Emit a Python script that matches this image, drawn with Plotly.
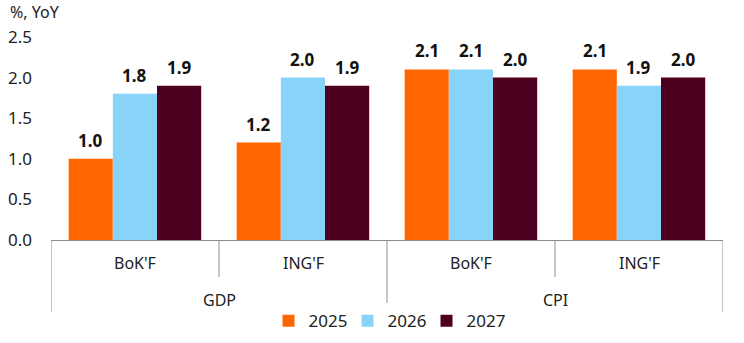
import plotly.graph_objects as go

indicators = ["GDP", "CPI"]
sources = ["BoK'F", "ING'F", "BoK'F", "ING'F"]
years = ["2025", "2026", "2027"]
values = {
    "2025": [1.0, 1.2, 2.1, 2.1],
    "2026": [1.8, 2.0, 2.1, 1.9],
    "2027": [1.9, 1.9, 2.0, 2.0],
}
colors = {"2025": "#FF6600", "2026": "#88D4F8", "2027": "#4D0020"}
y_ticks = [0.0, 0.5, 1.0, 1.5, 2.0, 2.5]

FONT = "Noto Sans"
LINE = "#8C8C8C"

# bar geometry inside each category slot (x units)
bar_w = 0.263
group_start = -0.395

xs = list(range(len(sources)))

fig = go.Figure()
annotations = []
for i, yr in enumerate(years):
    off = group_start + i * bar_w
    fig.add_trace(go.Bar(
        x=xs, y=values[yr], name=yr,
        width=bar_w, offset=off,
        marker=dict(color=colors[yr], line=dict(width=0)),
    ))
    for x, v in zip(xs, values[yr]):
        annotations.append(dict(
            x=x + off + bar_w / 2, y=v, xref="x", yref="y",
            text=f"<b>{v:.1f}</b>", showarrow=False,
            yanchor="bottom", yshift=5,
            font=dict(size=17, color="#111111"),
        ))

# two-level category labels below the axis
for x, s in zip(xs, sources):
    annotations.append(dict(x=x, y=-0.113, xref="x", yref="paper", text=s,
                            yanchor="middle", showarrow=False, font=dict(size=16)))
for j, ind in enumerate(indicators):
    annotations.append(dict(x=2 * j + 0.5, y=-0.296, xref="x", yref="paper", text=ind,
                            yanchor="middle", showarrow=False, font=dict(size=16)))

annotations.append(dict(text="%, YoY", xref="paper", yref="paper", x=-0.064, y=1.125,
                        xanchor="left", yanchor="middle", showarrow=False,
                        font=dict(size=16)))

# category separators: short between sources, long between indicators
shapes = []
for b in [-0.5, 0.5, 1.5, 2.5, 3.5]:
    outer = b in (-0.5, 1.5, 3.5)
    shapes.append(dict(type="line", xref="x", yref="paper", x0=b, x1=b,
                       y0=0, y1=-0.355 if outer else -0.182,
                       line=dict(color=LINE, width=1)))

fig.update_layout(
    width=744, height=343,
    margin=dict(l=51, r=21, t=37, b=103, autoexpand=False),
    paper_bgcolor="white", plot_bgcolor="white",
    barmode="overlay",
    font=dict(family=FONT, size=16, color="#222222"),
    showlegend=True,
    legend=dict(orientation="h", x=0.5, xanchor="center", y=-0.40, yanchor="middle",
                font=dict(size=17), itemwidth=30, tracegroupgap=0,
                entrywidth=34, entrywidthmode="pixels",
                traceorder="normal"),
    annotations=annotations,
    shapes=shapes,
)
fig.update_yaxes(range=[0, 2.5], tickvals=y_ticks, ticktext=[f"{v:.1f}" for v in y_ticks],
                 showgrid=False, zeroline=False, showline=False, ticks="",
                 ticklabelstandoff=18, tickfont=dict(size=17), automargin=False)
fig.update_xaxes(range=[-0.5, 3.5], showticklabels=False, showgrid=False, zeroline=False,
                 showline=True, linecolor=LINE, linewidth=1, ticks="", automargin=False)

fig.write_html("out.html")
